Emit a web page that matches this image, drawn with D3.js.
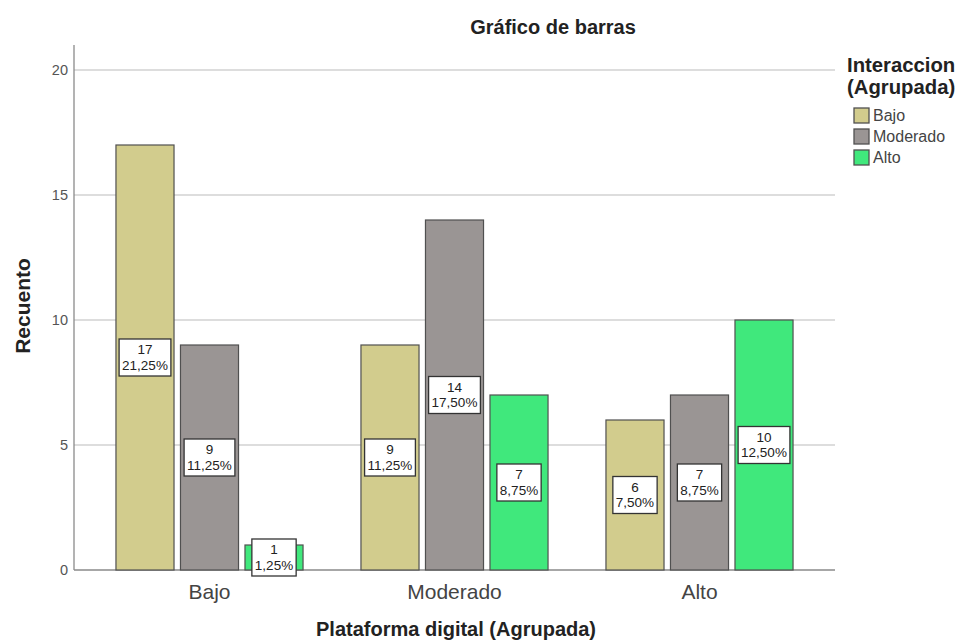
<!DOCTYPE html>
<html>
<head>
<meta charset="utf-8">
<script src="https://cdn.jsdelivr.net/npm/d3@7"></script>
<style>
  html, body { margin: 0; padding: 0; background: #fff; }
  svg { display: block; font-family: "Liberation Sans", Arial, sans-serif; }
</style>
</head>
<body>
<svg id="chart" width="962" height="644"></svg>
<script>
// Plataforma digital (Agrupada) x Interaccion (Agrupada)
const categories = ["Bajo", "Moderado", "Alto"];          // x groups: Plataforma digital
const seriesNames = ["Bajo", "Moderado", "Alto"];         // series: Interaccion
const seriesColors = ["#d2cc8d", "#9a9594", "#40e87c"];
// counts per Interaccion level, one value per Plataforma digital group
const countsBajo = [17, 9, 6];
const countsModerado = [9, 14, 7];
const countsAlto = [1, 7, 10];
const yTicks = [0, 5, 10, 15, 20];
const total = 80;

const seriesValues = [countsBajo, countsModerado, countsAlto];

const svg = d3.select("#chart");
const plot = { left: 74, right: 835, top: 45, bottom: 570 };

const x = d3.scaleBand()
  .domain(categories)
  .range([87, 822])
  .paddingInner(0)
  .paddingOuter(0);

const xInner = d3.scaleBand()
  .domain(seriesNames)
  .range([0, x.bandwidth()])
  .paddingInner(0.1)
  .paddingOuter(0.449);

const y = d3.scaleLinear().domain([0, 21]).range([plot.bottom, plot.top]);

// gridlines
svg.append("g")
  .selectAll("line")
  .data(yTicks.filter(d => d > 0))
  .join("line")
  .attr("x1", plot.left).attr("x2", plot.right)
  .attr("y1", d => y(d)).attr("y2", d => y(d))
  .attr("stroke", "#d2d2d2").attr("stroke-width", 1.3);

// y axis
const yAxis = svg.append("g")
  .attr("transform", `translate(${plot.left},0)`)
  .call(d3.axisLeft(y).tickValues(yTicks).tickSize(0).tickPadding(6));
yAxis.select(".domain").remove();
yAxis.selectAll("text")
  .attr("fill", "#555").attr("font-size", 14.5);
svg.append("line")
  .attr("x1", plot.left).attr("x2", plot.left)
  .attr("y1", plot.top).attr("y2", plot.bottom)
  .attr("stroke", "#8a8a8a").attr("stroke-width", 1.3);

// x axis
const xAxis = svg.append("g")
  .attr("transform", `translate(0,${plot.bottom})`)
  .call(d3.axisBottom(x).tickSize(0).tickPadding(0));
xAxis.select(".domain").remove();
xAxis.selectAll("text")
  .attr("dy", null)
  .attr("y", 29)
  .attr("fill", "#444").attr("font-size", 21);
svg.append("line")
  .attr("x1", plot.left).attr("x2", plot.right)
  .attr("y1", plot.bottom).attr("y2", plot.bottom)
  .attr("stroke", "#8a8a8a").attr("stroke-width", 1.3);

// bars
const rows = [];
categories.forEach((c, ci) => {
  seriesNames.forEach((s, si) => {
    rows.push({ cat: c, ser: s, si, value: seriesValues[si][ci] });
  });
});

const bars = svg.append("g");
bars.selectAll("rect")
  .data(rows)
  .join("rect")
  .attr("x", d => x(d.cat) + xInner(d.ser))
  .attr("width", xInner.bandwidth())
  .attr("y", d => y(d.value))
  .attr("height", d => y(0) - y(d.value))
  .attr("fill", d => seriesColors[d.si])
  .attr("stroke", "#505050")
  .attr("stroke-width", 1.2);

// value labels: count and share of total, boxed at mid-height of each bar
const fmtPct = v => (v / total * 100).toFixed(2).replace(".", ",") + "%";
const labels = svg.append("g");
rows.forEach(d => {
  const cx = x(d.cat) + xInner(d.ser) + xInner.bandwidth() / 2;
  const cy = (y(d.value) + y(0)) / 2;
  const g = labels.append("g");
  const t = g.append("text")
    .attr("text-anchor", "middle")
    .attr("font-size", 13.5)
    .attr("fill", "#222");
  t.append("tspan").attr("x", cx).attr("y", cy - 3.5).text(d.value);
  t.append("tspan").attr("x", cx).attr("y", cy + 12).text(fmtPct(d.value));
  const bb = t.node().getBBox();
  g.insert("rect", "text")
    .attr("x", cx - bb.width / 2 - 3)
    .attr("y", cy - 18.5)
    .attr("width", bb.width + 6)
    .attr("height", 37)
    .attr("fill", "#fff")
    .attr("stroke", "#333")
    .attr("stroke-width", 1.3);
});

// title
svg.append("text")
  .attr("x", 553).attr("y", 34)
  .attr("text-anchor", "middle")
  .attr("font-size", 20).attr("font-weight", "bold").attr("fill", "#222")
  .text("Gráfico de barras");

// axis titles
svg.append("text")
  .attr("transform", "translate(30,306) rotate(-90)")
  .attr("text-anchor", "middle")
  .attr("font-size", 21).attr("font-weight", "bold").attr("fill", "#222")
  .text("Recuento");

svg.append("text")
  .attr("x", 456).attr("y", 636)
  .attr("text-anchor", "middle")
  .attr("font-size", 20).attr("font-weight", "bold").attr("fill", "#222")
  .text("Plataforma digital (Agrupada)");

// legend
const legend = svg.append("g");
legend.append("text")
  .attr("x", 847).attr("y", 72)
  .attr("font-size", 20.3).attr("font-weight", "bold").attr("fill", "#222")
  .text("Interaccion");
legend.append("text")
  .attr("x", 847).attr("y", 94)
  .attr("font-size", 20.3).attr("font-weight", "bold").attr("fill", "#222")
  .text("(Agrupada)");
seriesNames.forEach((s, i) => {
  const yy = 108 + i * 21;
  legend.append("rect")
    .attr("x", 854).attr("y", yy)
    .attr("width", 15).attr("height", 15)
    .attr("fill", seriesColors[i])
    .attr("stroke", "#505050").attr("stroke-width", 1.3);
  legend.append("text")
    .attr("x", 873).attr("y", yy + 13)
    .attr("font-size", 16).attr("fill", "#444")
    .text(s);
});
</script>
</body>
</html>
